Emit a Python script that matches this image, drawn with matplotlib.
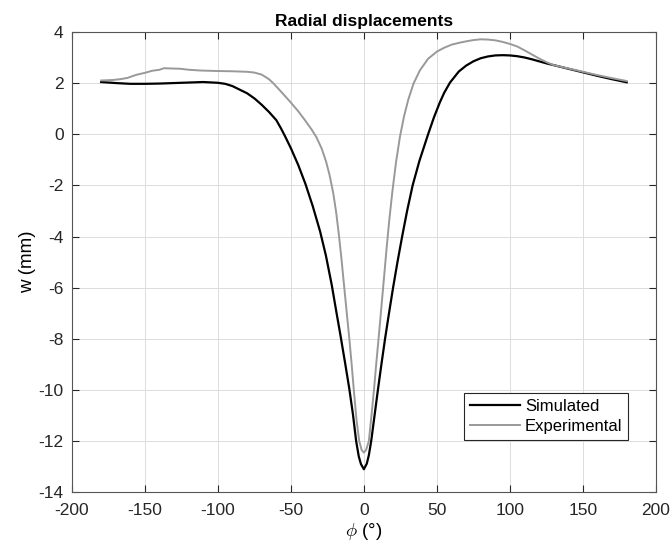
import numpy as np
import matplotlib
matplotlib.use("Agg")
import matplotlib.pyplot as plt

plt.rcParams['font.family'] = ['Liberation Sans', 'DejaVu Sans']
plt.rcParams['axes.unicode_minus'] = False
plt.rcParams['mathtext.fontset'] = 'cm'

# simulated (black)
sim_phi = [-180, -170, -160, -150, -140, -130, -120, -110, -100, -95, -90, -85, -80, -75,
           -70, -65, -60, -57, -54, -50, -45, -40, -35, -30, -26, -22, -19, -16, -13, -10,
           -7.5, -5.3, -3.5, -2, 0, 2, 3.4, 5, 7.3, 9.6, 12, 14.5, 17.2, 20, 23, 26.2,
           29.6, 33.4, 38, 44, 48, 52, 55, 59, 65, 70, 75, 80, 85, 90, 95, 100,
           105, 110, 115, 120, 125, 130, 140, 150, 160, 170, 180]
sim_w = [2.04, 2.0, 1.97, 1.97, 1.98, 2.0, 2.02, 2.04, 2.01, 1.97, 1.88, 1.74, 1.6, 1.4,
         1.15, 0.87, 0.55, 0.25, -0.08, -0.55, -1.2, -1.95, -2.82, -3.8, -4.75, -5.9, -6.9, -7.88, -8.9, -9.95,
         -10.95, -12.0, -12.6, -12.9, -13.1, -12.88, -12.55, -12.0, -11.0, -10.0, -9.0, -8.0, -7.0, -6.0, -5.0, -4.0,
         -3.0, -2.0, -1.05, 0.0, 0.66, 1.24, 1.62, 2.02, 2.45, 2.68, 2.85, 2.97, 3.04, 3.08, 3.09, 3.08,
         3.05, 3.0, 2.93, 2.85, 2.77, 2.7, 2.56, 2.42, 2.28, 2.15, 2.03]

# experimental (gray)
exp_phi = [-180, -172, -167, -162, -156, -150, -145, -140, -137, -132, -126, -120, -112, -100,
           -90, -80, -75, -70, -65, -62, -57, -51, -45, -40, -36, -32.5, -29, -26, -23.5, -21,
           -19, -17.2, -15.4, -13.7, -11.8, -9.8, -8.3, -6.9, -5, -3.2, -1.5, 0, 1.5, 3.4, 5.2, 6.9,
           8.5, 10.2, 12, 13.8, 15.5, 17.4, 19.5, 22, 24.7, 27.5, 30.4, 34, 38.4, 44, 50, 55,
           60, 65, 70, 75, 80, 85, 90, 95, 100, 105, 110, 115, 120, 125, 130, 140,
           150, 160, 170, 180]
exp_w = [2.1, 2.12, 2.15, 2.2, 2.32, 2.4, 2.48, 2.52, 2.58, 2.57, 2.56, 2.52, 2.49, 2.47,
         2.46, 2.44, 2.41, 2.33, 2.15, 1.99, 1.68, 1.3, 0.9, 0.52, 0.2, -0.12, -0.55, -1.05, -1.6, -2.3,
         -3.05, -3.9, -4.85, -5.85, -6.95, -8.1, -9.05, -10.0, -11.2, -12.0, -12.35, -12.45, -12.35, -12.0, -11.0, -10.0,
         -8.95, -7.9, -6.75, -5.6, -4.5, -3.35, -2.25, -1.1, -0.1, 0.7, 1.35, 1.98, 2.5, 2.95, 3.23, 3.38,
         3.5, 3.57, 3.63, 3.68, 3.71, 3.7, 3.67, 3.61, 3.53, 3.43, 3.28, 3.12, 2.96, 2.82, 2.7, 2.57,
         2.44, 2.31, 2.19, 2.08]

fig = plt.figure(figsize=(6.72, 5.5), dpi=100)
ax = fig.add_axes([0.107, 0.105, 0.869, 0.837])

ax.plot(sim_phi, sim_w, color='black', lw=1.6, label='Simulated')
ax.plot(exp_phi, exp_w, color='#999999', lw=1.4, label='Experimental')

ax.set_xlim(-200, 200)
ax.set_ylim(-14, 4)
ax.set_xticks(np.arange(-200, 201, 50))
ax.set_yticks(np.arange(-14, 5, 2))
ax.grid(True, color='#dcdcdc', lw=0.7)
ax.set_axisbelow(True)
ax.tick_params(direction='in', top=True, right=True, labelsize=12.5, colors='#262626', length=5)
ax.tick_params(axis='x', pad=8)
ax.tick_params(axis='y', pad=6)
for s in ax.spines.values():
    s.set_color('#555555')
    s.set_linewidth(0.8)

ax.set_title('Radial displacements', fontsize=12.5, fontweight='bold', pad=4)
ax.set_xlabel(r'$\phi$ (°)', fontsize=13.5, labelpad=2)
ax.set_ylabel('w (mm)', fontsize=13.5, labelpad=2)

leg = ax.legend(loc='lower right', bbox_to_anchor=(0.953, 0.114), fontsize=12, fancybox=False,
                edgecolor='#262626', framealpha=1, handlelength=3.0, handletextpad=0.3,
                borderpad=0.35, labelspacing=0.28, borderaxespad=0)
leg.get_frame().set_linewidth(0.8)

fig.savefig('out.png', dpi=100)
